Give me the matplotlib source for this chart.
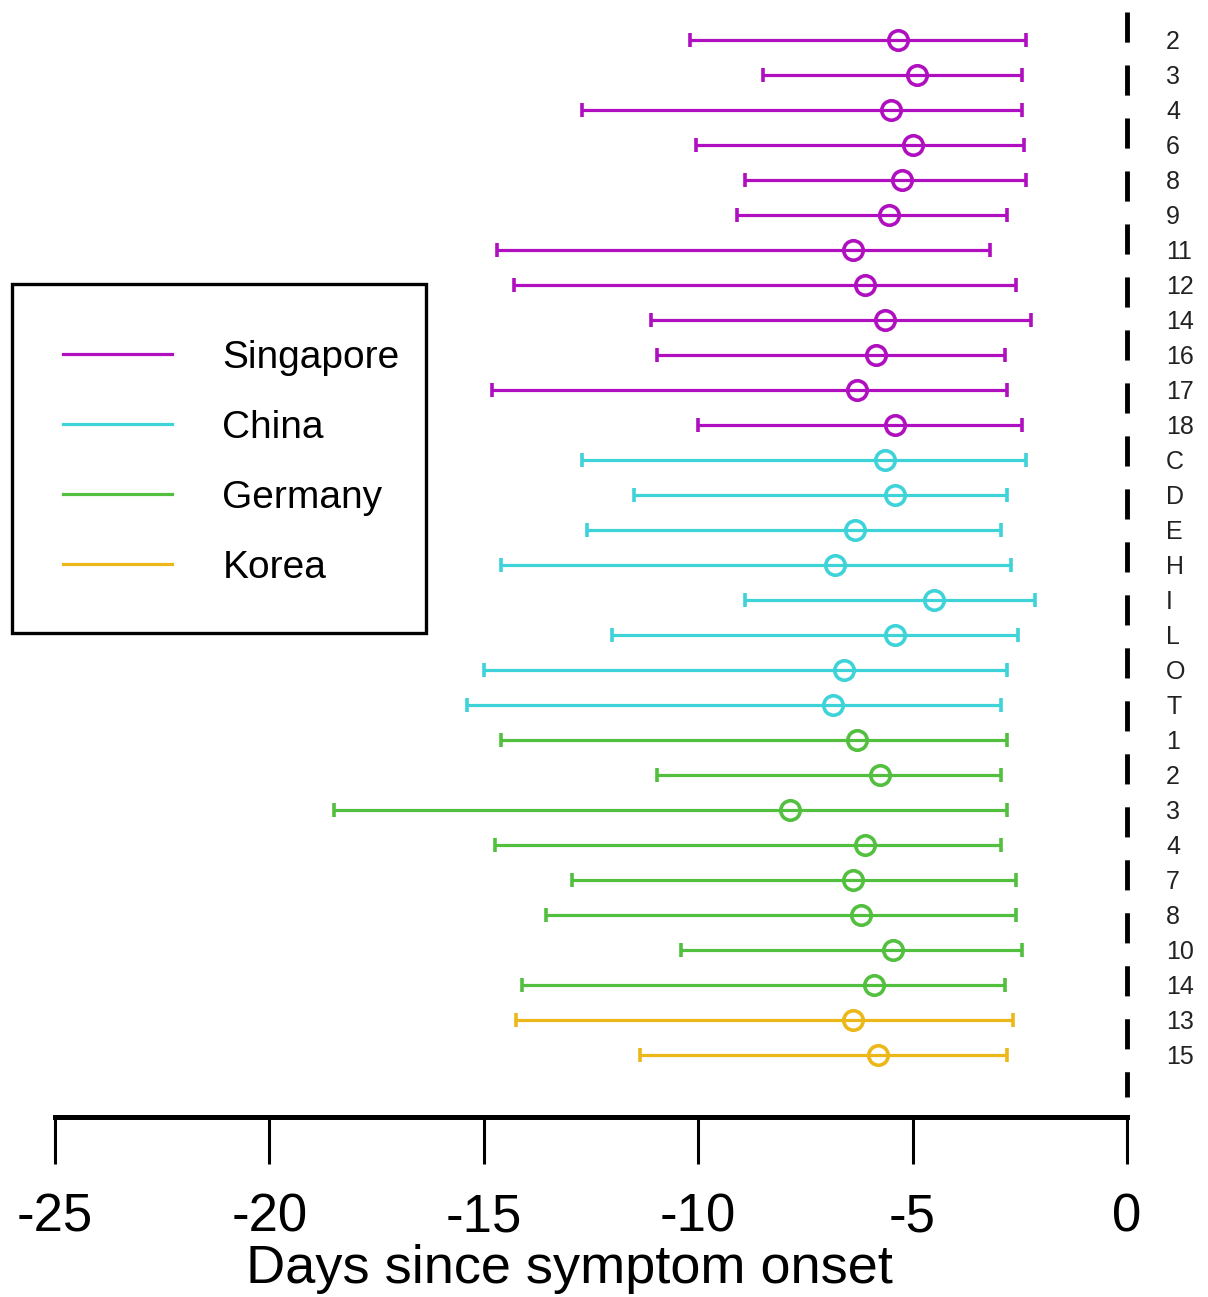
import numpy as np
import matplotlib
matplotlib.use('Agg')
from matplotlib import pyplot as plt
from matplotlib.lines import Line2D
from matplotlib.patches import Rectangle

plt.rcParams['font.family'] = ['Liberation Sans', 'DejaVu Sans']

# Row labels (top to bottom) and their country group
labels = ['2', '3', '4', '6', '8', '9', '11', '12', '14', '16', '17', '18',
          'C', 'D', 'E', 'H', 'I', 'L', 'O', 'T',
          '1', '2', '3', '4', '7', '8', '10', '14',
          '13', '15']
groups = ['Singapore'] * 12 + ['China'] * 8 + ['Germany'] * 8 + ['Korea'] * 2

# Estimated intervals (days since symptom onset)
lower = [-10.2, -8.5, -12.7, -10.05, -8.9, -9.1, -14.7, -14.3, -11.1, -10.95, -14.8, -10.0,
         -12.7, -11.5, -12.6, -14.6, -8.9, -12.0, -15.0, -15.4,
         -14.6, -10.95, -18.5, -14.75, -12.95, -13.55, -10.4, -14.1,
         -14.25, -11.35]
center = [-5.35, -4.9, -5.5, -5.0, -5.25, -5.55, -6.4, -6.1, -5.65, -5.85, -6.3, -5.4,
          -5.65, -5.4, -6.35, -6.8, -4.5, -5.4, -6.6, -6.85,
          -6.3, -5.75, -7.85, -6.1, -6.4, -6.2, -5.45, -5.9,
          -6.4, -5.8]
upper = [-2.35, -2.45, -2.45, -2.4, -2.35, -2.8, -3.2, -2.6, -2.25, -2.85, -2.8, -2.45,
         -2.35, -2.8, -2.95, -2.7, -2.15, -2.55, -2.8, -2.95,
         -2.8, -2.95, -2.8, -2.95, -2.6, -2.6, -2.45, -2.85,
         -2.65, -2.8]

countries = ['Singapore', 'China', 'Germany', 'Korea']
colors = {'Singapore': '#b00fbf', 'China': '#3dd3d8',
          'Germany': '#52c03e', 'Korea': '#ecb719'}

W, H = 1208, 1297
fig = plt.figure(figsize=(W / 100, H / 100), dpi=100)
ax = fig.add_axes([55 / W, 1 - 1117 / H, 1072 / W, 1117 / H])

for i in range(len(labels)):
    c = colors[groups[i]]
    ax.errorbar(center[i], i,
                xerr=[[center[i] - lower[i]], [upper[i] - center[i]]],
                fmt='o', color=c, ecolor=c, elinewidth=2.3, capsize=5, capthick=2.3,
                markersize=14, markerfacecolor='none', markeredgecolor=c,
                markeredgewidth=2.6)
    ax.text(0.91, i + 0.05, labels[i], fontsize=18, color='#222222',
            ha='left', va='center', clip_on=False)

# dashed reference line at onset
ax.plot([0, 0], [-0.8, 30.2], color='black', lw=3.5, dashes=(6.2, 4.7),
        clip_on=False)

ax.set_xlim(-25, 0)
ax.set_ylim(30.77, -1.143)
ax.set_xticks([-25, -20, -15, -10, -5, 0])
ax.set_xticklabels(['-25', '-20', '-15', '-10', '-5', '0'])
ax.tick_params(axis='x', length=34, width=2.2, pad=20, labelsize=38)
ax.set_yticks([])
for s in ['top', 'right', 'left']:
    ax.spines[s].set_visible(False)
ax.spines['bottom'].set_linewidth(3.6)
ax.set_xlabel('Days since symptom onset', fontsize=39)
ax.xaxis.set_label_coords(0.48, -0.114)

# legend: frame drawn separately
fig.patches.append(Rectangle((12 / W, 1 - 633 / H), 414 / W, 349 / H,
                             transform=fig.transFigure, fill=False,
                             edgecolor='black', linewidth=2.4))
handles = [Line2D([0], [0], color=colors[g], lw=2.3) for g in countries]
leg = ax.legend(handles, countries,
                loc='upper left', bbox_to_anchor=(63 / W, 1 - 340 / H),
                bbox_transform=fig.transFigure, fontsize=28, frameon=False,
                borderpad=0, handlelength=2.8, handletextpad=1.3,
                labelspacing=0.87, borderaxespad=0)

fig.savefig('out.png', dpi=100)
